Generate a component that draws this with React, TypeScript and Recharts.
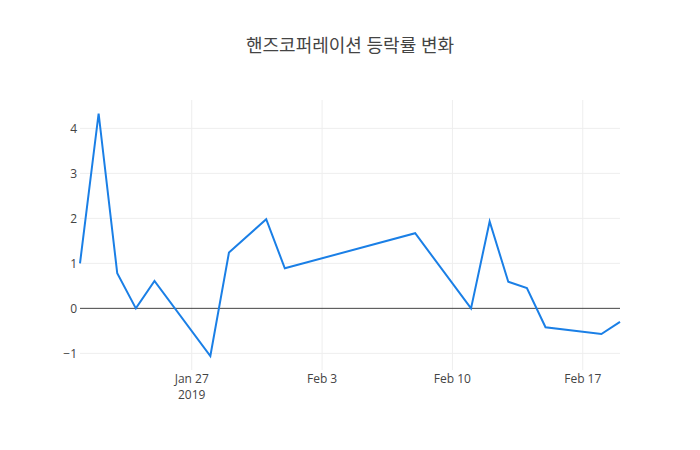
import { LineChart, Line, XAxis, YAxis, ReferenceLine } from 'recharts';

// 거래일 (2019)
const dates = [
  '2019-01-21', '2019-01-22', '2019-01-23', '2019-01-24', '2019-01-25',
  '2019-01-28', '2019-01-29', '2019-01-31', '2019-02-01', '2019-02-08',
  '2019-02-11', '2019-02-12', '2019-02-13', '2019-02-14', '2019-02-15',
  '2019-02-18', '2019-02-19',
];

// 등락률 (%)
const rates = [
  1.0, 4.33, 0.78, 0.0, 0.61,
  -1.06, 1.24, 1.98, 0.89, 1.67,
  0.0, 1.93, 0.59, 0.45, -0.42,
  -0.57, -0.3,
];

const xTicks = ['2019-01-27', '2019-02-03', '2019-02-10', '2019-02-17'];
const xTickLabels = ['Jan 27', 'Feb 3', 'Feb 10', 'Feb 17'];
const yTicks = [-1, 0, 1, 2, 3, 4];

const toTime = (d: string) => Date.parse(d + 'T00:00:00Z');

const data = dates.map((d, i) => ({ t: toTime(d), rate: rates[i] }));

const FONT = '"Open Sans", "Noto Sans CJK KR", sans-serif';

function DateTick(props: any) {
  const { x, y, payload } = props;
  const idx = xTicks.findIndex((d) => toTime(d) === payload.value);
  return (
    <g transform={`translate(${x},${y})`}>
      <text textAnchor="middle" fill="#444" fontSize={12} fontFamily={FONT}>
        <tspan x={0} y={13}>{xTickLabels[idx]}</tspan>
        {idx === 0 && <tspan x={0} y={29}>2019</tspan>}
      </text>
    </g>
  );
}

export default function App() {
  return (
    <div style={{ position: 'absolute', left: 0, top: 0, width: 700, height: 450, background: '#fff' }}>
      <div
        style={{
          position: 'absolute', top: 31, width: 700, textAlign: 'center',
          fontFamily: FONT, fontSize: 18, color: '#444',
        }}
      >
        핸즈코퍼레이션 등락률 변화
      </div>
      <LineChart
        width={700}
        height={450}
        data={data}
        margin={{ top: 100, right: 80, left: 50, bottom: 50 }}
      >
        <XAxis
          dataKey="t"
          type="number"
          scale="time"
          domain={[toTime('2019-01-21'), toTime('2019-02-19')]}
          ticks={xTicks.map(toTime)}
          tick={<DateTick />}
          axisLine={false}
          tickLine={false}
          tickSize={0}
          tickMargin={0}
          height={30}
          interval={0}
        />
        <YAxis
          type="number"
          domain={[-1.37, 4.63]}
          ticks={yTicks}
          tickFormatter={(v: number) => (v < 0 ? '\u2212' + Math.abs(v) : String(v))}
          tick={{ fill: '#444', fontSize: 12, fontFamily: FONT }}
          axisLine={false}
          tickLine={false}
          tickSize={0}
          tickMargin={3}
          width={30}
          allowDataOverflow
          interval={0}
        />
        {/* 격자선 */}
        {xTicks.map((d) => (
          <ReferenceLine key={d} x={toTime(d)} stroke="#eee" strokeWidth={1} />
        ))}
        {yTicks.filter((v) => v !== 0).map((v) => (
          <ReferenceLine key={v} y={v} stroke="#eee" strokeWidth={1} />
        ))}
        <ReferenceLine y={0} stroke="#444" strokeWidth={1} />
        <Line
          type="linear"
          dataKey="rate"
          stroke="#1a7fe6"
          strokeWidth={2}
          dot={false}
          isAnimationActive={false}
        />
      </LineChart>
    </div>
  );
}
